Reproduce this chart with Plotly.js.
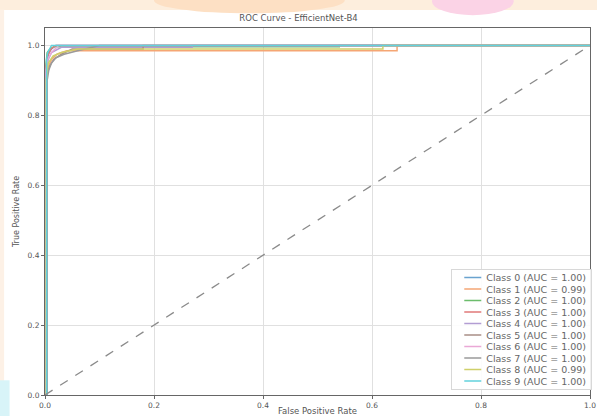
<!DOCTYPE html>
<html>
<head>
<meta charset="utf-8">
<script src="https://cdn.plot.ly/plotly-3.0.1.min.js"></script>
<style>html,body{margin:0;padding:0;background:#fff;}#chart{width:597px;height:416px;}</style>
</head>
<body>
<div id="chart"></div>
<script>
const classNames = ["Class 0","Class 1","Class 2","Class 3","Class 4","Class 5","Class 6","Class 7","Class 8","Class 9"];
const aucValues = ["1.00","0.99","1.00","1.00","1.00","1.00","1.00","1.00","0.99","1.00"];
const fpr0 = [0.002,0.002,0.004,0.007,0.012,0.02,1];
const tpr0 = [0,0.93,0.96,0.98,0.99,1,1];
const fpr1 = [0.002,0.002,0.006,0.012,0.022,0.04,0.646,0.646,1];
const tpr1 = [0,0.9,0.94,0.96,0.975,0.985,0.985,1,1];
const fpr2 = [0.002,0.002,0.004,0.009,0.016,0.54,0.54,1];
const tpr2 = [0,0.95,0.98,0.99,0.996,0.996,1,1];
const fpr3 = [0.002,0.002,0.005,0.011,0.02,1];
const tpr3 = [0,0.94,0.97,0.99,1,1];
const fpr4 = [0.002,0.002,0.006,0.012,0.03,0.27,0.27,1];
const tpr4 = [0,0.92,0.96,0.98,0.995,0.995,1,1];
const fpr5 = [0.003,0.003,0.008,0.016,0.03,0.05,0.18,0.18,1];
const tpr5 = [0,0.91,0.94,0.96,0.975,0.99,0.99,1,1];
const fpr6 = [0.002,0.002,0.005,0.012,0.025,1];
const tpr6 = [0,0.93,0.96,0.98,1,1];
const fpr7 = [0.004,0.004,0.007,0.012,0.02,0.035,0.06,0.1,1];
const tpr7 = [0,0.9,0.93,0.95,0.965,0.975,0.985,1,1];
const fpr8 = [0.002,0.002,0.006,0.015,0.03,0.06,0.62,0.62,1];
const tpr8 = [0,0.9,0.95,0.97,0.98,0.99,0.99,1,1];
const fpr9 = [0.003,0.003,0.005,0.008,0.012,1];
const tpr9 = [0,0.96,0.98,0.99,1,1];
const fprs = [fpr0,fpr1,fpr2,fpr3,fpr4,fpr5,fpr6,fpr7,fpr8,fpr9];
const tprs = [tpr0,tpr1,tpr2,tpr3,tpr4,tpr5,tpr6,tpr7,tpr8,tpr9];
const diagX = [0,1];
const diagY = [0,1];
const colors = ["#6aa3cf","#f5a674","#6cbd6c","#e07878","#b29dd3","#a88e86","#eaa8d6","#9a9a9a","#cfd06a","#62d2dd"];

const traces = classNames.map((c,i)=>({
  x: fprs[i], y: tprs[i], type:'scatter', mode:'lines',
  name: c + " (AUC = " + aucValues[i] + ")",
  line:{color:colors[i], width:1.5}
}));
traces.push({x:diagX, y:diagY, type:'scatter', mode:'lines', showlegend:false,
  line:{color:'#8a8a8a', width:1.3, dash:'dash'}});

const fam = 'DejaVu Sans, sans-serif';
const fnt = {family:fam, size:7.5, color:'#555'};
const layout = {
  width:597, height:416,
  margin:{l:45, r:7, t:28, b:21},
  paper_bgcolor:'#fff', plot_bgcolor:'#fff',
  title:{text:'ROC Curve - EfficientNet-B4', font:{family:fam, size:8.5, color:'#555'}, x:0.5, xanchor:'center', y:0.957, yanchor:'middle'},
  xaxis:{range:[0,1], tickvals:[0,0.2,0.4,0.6,0.8,1], ticktext:['0.0','0.2','0.4','0.6','0.8','1.0'],
    showgrid:true, gridcolor:'#e0e0e0', gridwidth:1, zeroline:false, showline:true, linecolor:'#666', linewidth:1, mirror:true,
    ticks:'outside', ticklen:3, tickcolor:'#666', tickfont:fnt,
    title:{text:'False Positive Rate', font:{family:fam, size:8.5, color:'#555'}, standoff:3}},
  yaxis:{range:[0,1.05], tickvals:[0,0.2,0.4,0.6,0.8,1], ticktext:['0.0','0.2','0.4','0.6','0.8','1.0'],
    showgrid:true, gridcolor:'#e0e0e0', gridwidth:1, zeroline:false, showline:true, linecolor:'#666', linewidth:1, mirror:true,
    ticks:'outside', ticklen:3, tickcolor:'#666', tickfont:fnt,
    title:{text:'True Positive Rate', font:{family:fam, size:8, color:'#555'}, standoff:6}},
  legend:{x:0.998, xanchor:'right', y:0.02, yanchor:'bottom', bgcolor:'rgba(255,255,255,0.9)', bordercolor:'#d8d8d8', borderwidth:1,
    font:{family:fam, size:9.5, color:'#666'}, tracegroupgap:0},
  showlegend:true,
  shapes:[
    {type:'rect', xref:'paper', yref:'paper', x0:-0.1, x1:1.02, y0:1.049, y1:1.08, fillcolor:'#fdeedd', line:{width:0}, layer:'below'},
    {type:'circle', xref:'paper', yref:'paper', x0:0.2, x1:0.55, y0:1.04, y1:1.11, fillcolor:'#fde0c4', line:{width:0}, layer:'below'},
    {type:'circle', xref:'paper', yref:'paper', x0:0.71, x1:0.86, y0:1.035, y1:1.11, fillcolor:'#fbd3e6', line:{width:0}, layer:'below'},
    {type:'rect', xref:'paper', yref:'paper', x0:-0.083, x1:-0.075, y0:-0.06, y1:1.05, fillcolor:'#fdf1e6', line:{width:0}, layer:'below'},
    {type:'rect', xref:'paper', yref:'paper', x0:-0.083, x1:-0.065, y0:-0.06, y1:0.04, fillcolor:'#d8f4f8', line:{width:0}, layer:'below'}
  ]
};
Plotly.newPlot('chart', traces, layout, {displayModeBar:false, staticPlot:true}).then(function(gd){
  try {
    const leg = gd.querySelector('.legend');
    const items = leg.querySelectorAll('.traces');
    const spacing = 11.5, firstY = 9, textX = 34;
    let maxW = 0;
    items.forEach(function(it, i){
      it.setAttribute('transform', 'translate(1,' + (firstY + i*spacing) + ')');
      const p = it.querySelector('.legendlines path');
      if (p) p.setAttribute('d', 'M12,0h17');
      const t = it.querySelector('.legendtext');
      if (t) { t.setAttribute('x', textX); maxW = Math.max(maxW, t.getComputedTextLength()); }
    });
    const w = textX + maxW + 6;
    const h = firstY + (items.length - 1)*spacing + 8;
    const bg = leg.querySelector('.bg');
    bg.setAttribute('width', w); bg.setAttribute('height', h);
    const clip = gd.querySelector('clipPath[id^="legend"] rect');
    if (clip) { clip.setAttribute('width', w); clip.setAttribute('height', h); }
    leg.setAttribute('transform', 'translate(' + (591 - w) + ',' + (389 - h) + ')');
  } catch (e) {}
});
</script>
</body>
</html>
